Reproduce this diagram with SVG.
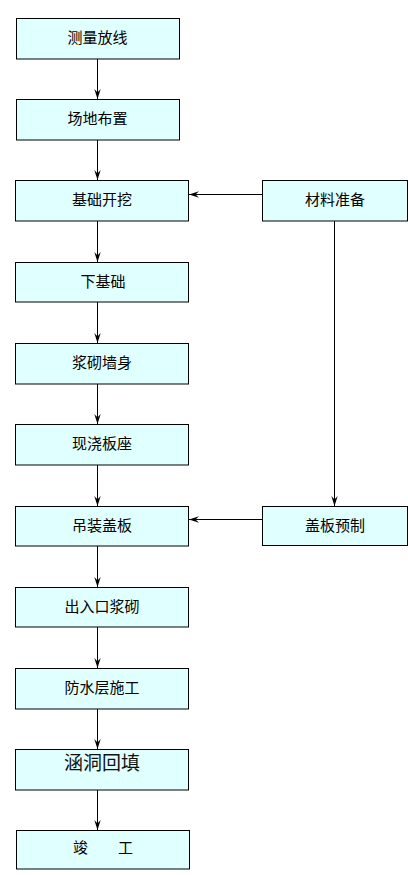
<svg xmlns="http://www.w3.org/2000/svg" width="408" height="875" viewBox="0 0 408 875">
<style>
.box{fill:#E0FFFF;stroke:#000;stroke-width:1}
.lbl{font-family:"Noto Sans CJK SC","Liberation Sans",sans-serif;font-size:15px;fill:#000;text-anchor:middle;dominant-baseline:central}
.con{stroke:#000;stroke-width:1;fill:none;marker-end:url(#ah)}
</style>
<defs>
<marker id="ah" markerWidth="11" markerHeight="8" refX="10" refY="4" orient="auto" markerUnits="userSpaceOnUse">
<path d="M0,0.8 L10,4 L0,7.2 L3.5,4 z" fill="#000"/>
</marker>
</defs>
<rect width="408" height="875" fill="#fff"/>
<g id="connectors">
<line class="con" x1="97.5" y1="59" x2="97.5" y2="99"/>
<line class="con" x1="97.5" y1="140" x2="97.5" y2="180"/>
<line class="con" x1="97.5" y1="221" x2="97.5" y2="262"/>
<line class="con" x1="97.5" y1="302" x2="97.5" y2="343"/>
<line class="con" x1="97.5" y1="384" x2="97.5" y2="424"/>
<line class="con" x1="97.5" y1="465" x2="97.5" y2="506"/>
<line class="con" x1="97.5" y1="546" x2="97.5" y2="587"/>
<line class="con" x1="97.5" y1="627" x2="97.5" y2="668"/>
<line class="con" x1="97.5" y1="709" x2="97.5" y2="749"/>
<line class="con" x1="97.5" y1="790" x2="97.5" y2="830"/>
<line class="con" x1="262" y1="194.5" x2="189" y2="194.5"/>
<line class="con" x1="262" y1="519.5" x2="189" y2="519.5"/>
<line class="con" x1="334.5" y1="221" x2="334.5" y2="506"/>
</g>
<g id="n1"><rect class="box" x="16.5" y="18.5" width="163" height="40.5"/><text class="lbl" x="97.5" y="36">测量放线</text></g>
<g id="n2"><rect class="box" x="16.5" y="99.5" width="163" height="40.5"/><text class="lbl" x="97.5" y="117">场地布置</text></g>
<g id="n3"><rect class="box" x="15.5" y="180.5" width="173" height="40.5"/><text class="lbl" x="102" y="198">基础开挖</text></g>
<g id="n4"><rect class="box" x="15.5" y="262.5" width="173" height="39.5"/><text class="lbl" x="103" y="280">下基础</text></g>
<g id="n5"><rect class="box" x="15.5" y="343.5" width="173" height="40.5"/><text class="lbl" x="102" y="361">浆砌墙身</text></g>
<g id="n6"><rect class="box" x="15.5" y="424.5" width="173" height="40.5"/><text class="lbl" x="102" y="442">现浇板座</text></g>
<g id="n7"><rect class="box" x="15.5" y="506.5" width="173" height="39.5"/><text class="lbl" x="102" y="524">吊装盖板</text></g>
<g id="n8"><rect class="box" x="15.5" y="587.5" width="173" height="39.5"/><text class="lbl" x="102" y="605">出入口浆砌</text></g>
<g id="n9"><rect class="box" x="15.5" y="668.5" width="173" height="40.5"/><text class="lbl" x="102" y="686">防水层施工</text></g>
<g id="n10"><rect class="box" x="15.5" y="749.5" width="173" height="40.5"/><text class="lbl" x="102" y="761" style="font-size:19px;fill:#111">涵洞回填</text></g>
<g id="n11"><rect class="box" x="16.5" y="830.5" width="173" height="38.5"/><text class="lbl" x="103" y="846" xml:space="preserve">竣　　工</text></g>
<g id="n12"><rect class="box" x="262.5" y="180.5" width="145" height="40.5"/><text class="lbl" x="335" y="198">材料准备</text></g>
<g id="n13"><rect class="box" x="262.5" y="506.5" width="145" height="39"/><text class="lbl" x="335" y="524">盖板预制</text></g>
</svg>
